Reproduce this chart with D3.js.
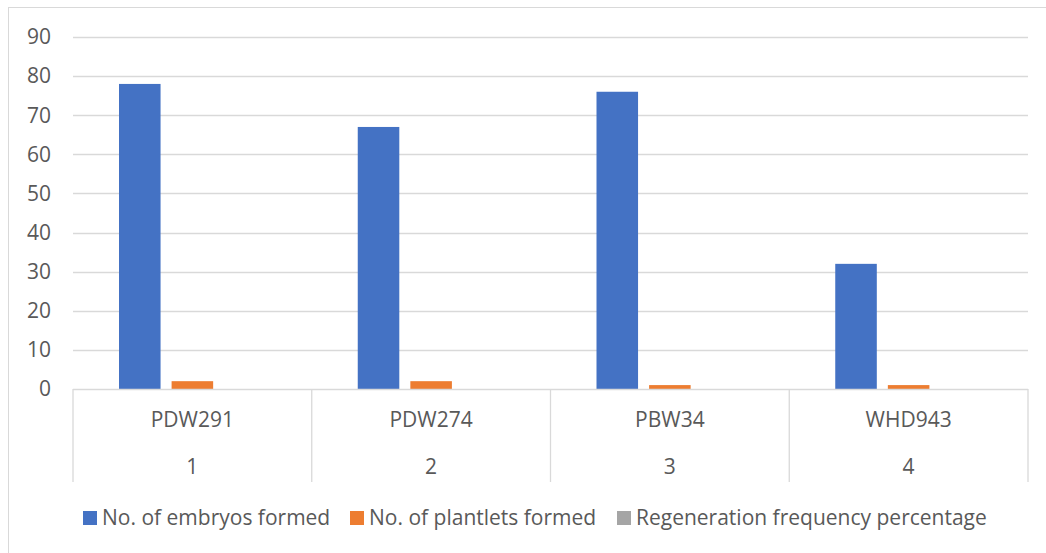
<!DOCTYPE html>
<html>
<head>
<meta charset="utf-8">
<script src="https://cdn.jsdelivr.net/npm/d3@7"></script>
<style>
body{margin:0;background:#fff}
text{font-family:"Open Sans",sans-serif;fill:#595959}
</style>
</head>
<body>
<script>
const w=1046
const h=553

const names=["PDW291","PDW274","PBW34","WHD943"]
const nums=["1","2","3","4"]
const series=["No. of embryos formed","No. of plantlets formed","Regeneration frequency percentage"]
const colors=["#4472c4","#ed7d31","#a5a5a5"]
const embryos=[78,67,76,32]
const plantlets=[2,2,1,1]
const regen=[0,0,0,0]
const yTicks=[0,10,20,30,40,50,60,70,80,90]

const values=[embryos,plantlets,regen]
const fs=21

const plotL=73, plotR=1028, plotT=37, plotB=389

const x=d3.scaleBand()
    .domain(names)
    .range([plotL,plotR])
    .padding(0)

const inner=d3.scaleBand()
    .domain(series)
    .range([46,x.bandwidth()-46])
    .paddingInner(0.21)

const y=d3.scaleLinear()
    .domain([0,90])
    .range([plotB,plotT])

const svg=d3.create("svg")
    .attr("width",w)
    .attr("height",h)

//outer frame
svg.append("rect")
    .attr("x",8.5).attr("y",7.5)
    .attr("width",w).attr("height",h)
    .attr("fill","none")
    .attr("stroke","#d9d9d9")

//gridlines
svg.append("g")
    .selectAll("line")
    .data(yTicks.filter(d=>d>0))
    .enter()
    .append("line")
    .attr("x1",plotL).attr("x2",plotR)
    .attr("y1",d=>Math.round(y(d))+0.5)
    .attr("y2",d=>Math.round(y(d))+0.5)
    .attr("stroke","#d9d9d9")
    .attr("stroke-width",1.3)

//y labels
svg.append("g")
    .selectAll("text")
    .data(yTicks)
    .enter()
    .append("text")
    .attr("x",51)
    .attr("y",d=>y(d))
    .attr("dy","0.35em")
    .attr("text-anchor","end")
    .attr("font-size",fs)
    .text(d=>d)

//bars
series.forEach((s,si)=>{
    svg.append("g")
        .selectAll("rect")
        .data(names)
        .enter()
        .append("rect")
        .attr("x",d=>x(d)+inner(s))
        .attr("width",inner.bandwidth())
        .attr("y",(d,i)=>y(values[si][i]))
        .attr("height",(d,i)=>y(0)-y(values[si][i]))
        .attr("fill",colors[si])
})

//category axis
const ax=svg.append("g").attr("stroke","#d9d9d9").attr("stroke-width",1.3)
ax.append("line")
    .attr("x1",plotL).attr("x2",plotR)
    .attr("y1",plotB+0.5).attr("y2",plotB+0.5)
ax.selectAll(".sep")
    .data(names.map(d=>x(d)).concat([plotR]))
    .enter()
    .append("line")
    .attr("x1",d=>d).attr("x2",d=>d)
    .attr("y1",plotB).attr("y2",482)

svg.append("g")
    .selectAll("text")
    .data(names)
    .enter()
    .append("text")
    .attr("x",d=>x(d)+x.bandwidth()/2)
    .attr("y",427)
    .attr("text-anchor","middle")
    .attr("font-size",fs)
    .text(d=>d)

svg.append("g")
    .selectAll("text")
    .data(nums)
    .enter()
    .append("text")
    .attr("x",(d,i)=>x(names[i])+x.bandwidth()/2)
    .attr("y",474)
    .attr("text-anchor","middle")
    .attr("font-size",fs)
    .text(d=>d)

//legend
const legX=[83,350,617]
const leg=svg.append("g")
    .selectAll("g")
    .data(series)
    .enter()
    .append("g")
    .attr("transform",(d,i)=>`translate(${legX[i]},511)`)
leg.append("rect")
    .attr("width",14).attr("height",14)
    .attr("fill",(d,i)=>colors[i])
leg.append("text")
    .attr("x",19)
    .attr("y",14)
    .attr("font-size",fs)
    .text(d=>d)

d3.select("body")
    .append(()=>svg.node())
</script>
</body>
</html>
